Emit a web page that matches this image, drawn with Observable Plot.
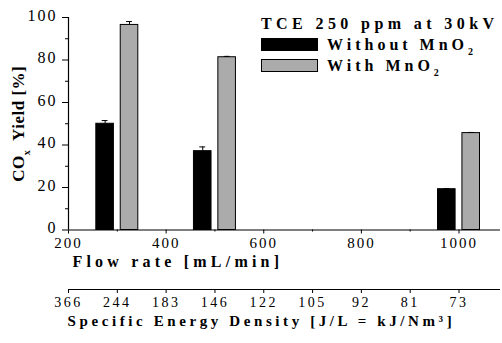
<!DOCTYPE html>
<html>
<head>
<meta charset="utf-8">
<script src="https://cdn.jsdelivr.net/npm/d3@7"></script>
<script src="https://cdn.jsdelivr.net/npm/@observablehq/plot@0.6"></script>
<style>
  body { margin: 0; background: #fff; }
  #wrap { position: relative; width: 502px; height: 343px; overflow: hidden; background: #fff; }
  #wrap svg { display: block; overflow: visible; }
  #wrap svg text { font-family: "Liberation Serif", "Tinos", "DejaVu Serif", serif; }
  .legend { position: absolute; left: 261px; top: 14px; font-family: "Liberation Serif", "Tinos", "DejaVu Serif", serif; font-weight: bold; color: #000; }
  .legend .title { font-size: 16px; letter-spacing: 4.4px; line-height: 20px; white-space: nowrap; }
  .legend .row { display: flex; align-items: center; height: 21px; font-size: 16px; letter-spacing: 4px; white-space: nowrap; }
  .legend .sw { width: 57px; height: 13px; margin-right: 9px; box-sizing: border-box; border: 1px solid #000; flex: none; }
  .legend .sub { font-size: 10px; position: relative; top: 5px; }
</style>
</head>
<body>
<div id="wrap"></div>
<script>
// ---- data ----
const flows = [300, 500, 1000];                 // mL/min
const seriesNames = ["Without MnO2", "With MnO2"];
const withoutMnO2 = [50.0, 37.1, 19.2];
const withoutErr  = [1.5, 2.0, 0.3];
const withMnO2    = [96.5, 81.3, 45.6];
const withErr     = [1.6, 0.4, 0.3];
const yTicks = [0, 20, 40, 60, 80, 100];
const yMinor = [10, 30, 50, 70, 90];
const xTicks = [200, 400, 600, 800, 1000];
const xMinor = [300, 500, 700, 900];
const sedFlows  = [200, 300, 400, 500, 600, 700, 800, 900, 1000];
const sedLabels = ["366", "244", "183", "146", "122", "105", "92", "81", "73"];
const yLabel = "CO_x Yield [%]";
const xLabel = "Flow rate [mL/min]";
const sedLabel = "Specific Energy Density [J/L = kJ/Nm\u00B3]";

// ---- table ----
const rows = [];
flows.forEach((f, i) => {
  rows.push({flow: f, series: seriesNames[0], value: withoutMnO2[i], err: withoutErr[i]});
  rows.push({flow: f, series: seriesNames[1], value: withMnO2[i], err: withErr[i]});
});
const off = d => d.series === seriesNames[0] ? -25 : 25;
const half = 18, cap = 6;
const fillOf = d => d.series === seriesNames[0] ? "#000" : "#ababab";
const xDomain = [200, 1085];
const serif = "'Liberation Serif', 'Tinos', 'DejaVu Serif', serif";

const main = Plot.plot({
  width: 502, height: 272,
  marginLeft: 68, marginRight: 2, marginTop: 17, marginBottom: 42.5,
  style: {fontFamily: serif, fontSize: "16px", letterSpacing: "2px", background: "#fff", color: "#000"},
  x: {domain: xDomain, axis: null},
  y: {domain: [0, 100], axis: null},
  marks: [
    Plot.rectY(rows, {
      x1: d => d.flow + off(d) - half, x2: d => d.flow + off(d) + half,
      y: "value", fill: fillOf, stroke: "#000", strokeWidth: 1
    }),
    Plot.ruleX(rows, {x: d => d.flow + off(d), y1: "value", y2: d => d.value + d.err, stroke: "#000", strokeWidth: 1}),
    Plot.ruleY(rows, {y: d => d.value + d.err, x1: d => d.flow + off(d) - cap, x2: d => d.flow + off(d) + cap, stroke: "#000", strokeWidth: 1}),
    Plot.ruleX([xDomain[0]], {stroke: "#000", strokeWidth: 1.2}),
    Plot.ruleY([0], {stroke: "#000", strokeWidth: 1.2}),
    Plot.axisY({ticks: yTicks, tickSize: 6, text: null, label: null, stroke: "#000"}),
    Plot.axisY({ticks: yTicks, tickSize: 0, tickPadding: 11, dy: -2, label: null}),
    Plot.axisY({ticks: yMinor, tickSize: 3, text: null, label: null, stroke: "#000"}),
    Plot.axisX({ticks: xTicks, tickFormat: d => String(d), tickSize: 4, tickPadding: 3, fontSize: 15, label: null, stroke: "#000"}),
    Plot.axisX({ticks: xMinor, tickSize: 2, text: null, label: null, stroke: "#000"}),
    Plot.text([xLabel], {frameAnchor: "bottom-left", textAnchor: "start", lineAnchor: "middle",
      dx: 4, dy: 31.5, fontWeight: "bold", fontSize: 16, fill: "#000"}),
    Plot.text([yLabel], {frameAnchor: "left", textAnchor: "middle", lineAnchor: "middle", rotate: -90,
      dx: -50, fontWeight: "bold", fontSize: 17, fill: "#000"})
  ]
});
main.querySelectorAll("text").forEach(t => {
  if (t.textContent === xLabel) t.setAttribute("letter-spacing", "4.2px");
  if (t.textContent === yLabel) {
    t.setAttribute("letter-spacing", "0.5px");
    t.textContent = "";
    const ns = "http://www.w3.org/2000/svg";
    const a = document.createElementNS(ns, "tspan"); a.textContent = "CO";
    const b = document.createElementNS(ns, "tspan"); b.textContent = "x"; b.setAttribute("font-size", "10"); b.setAttribute("dy", "6");
    const c = document.createElementNS(ns, "tspan"); c.textContent = "\u00A0 Yield [%]"; c.setAttribute("dy", "-6");
    t.append(a, b, c);
  }
});

const sed = Plot.plot({
  width: 502, height: 71,
  marginLeft: 68, marginRight: 2, marginTop: 17, marginBottom: 54,
  style: {fontFamily: serif, fontSize: "14px", letterSpacing: "2.5px", background: "#fff", color: "#000"},
  x: {domain: xDomain, axis: null},
  y: {domain: [0, 1], axis: null},
  marks: [
    Plot.ruleY([0], {stroke: "#000", strokeWidth: 1.2}),
    Plot.axisX({ticks: sedFlows, tickFormat: d => sedLabels[sedFlows.indexOf(d)], tickSize: 4, tickPadding: 4, label: null, stroke: "#000"}),
    Plot.text([sedLabel], {frameAnchor: "bottom-left", textAnchor: "start", lineAnchor: "middle",
      dx: -1, dy: 32, fontWeight: "bold", fontSize: 15, fill: "#000"})
  ]
});
sed.querySelectorAll("text").forEach(t => {
  if (t.textContent === sedLabel) t.setAttribute("letter-spacing", "3.6px");
});

const wrap = document.getElementById("wrap");
wrap.append(main, sed);

const legend = document.createElement("div");
legend.className = "legend";
legend.innerHTML =
  '<div class="title">TCE 250 ppm at 30kV</div>' +
  '<div class="row"><div class="sw" style="background:#000"></div><span>Without MnO<span class="sub">2</span></span></div>' +
  '<div class="row"><div class="sw" style="background:#ababab"></div><span>With MnO<span class="sub">2</span></span></div>';
wrap.append(legend);
</script>
</body>
</html>
